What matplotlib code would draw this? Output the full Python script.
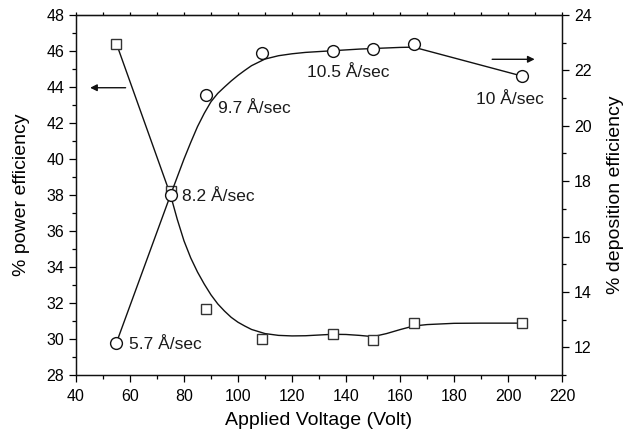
import matplotlib
matplotlib.use('Agg')
import matplotlib.pyplot as plt
from matplotlib.ticker import MultipleLocator

plt.rcParams['font.family'] = ['Liberation Sans', 'DejaVu Sans']

# measured points
voltage = [55, 75, 88, 109, 135, 150, 165, 205]
power_eff = [46.4, 38.2, 31.65, 30.0, 30.27, 29.95, 30.88, 30.88]
dep_eff = [12.17, 17.5, 21.12, 22.62, 22.71, 22.79, 22.94, 21.8]

# fitted curves
power_fit_x = [55, 75, 77.5, 80, 82.5, 85, 87.5, 90, 92.5, 95, 97.5, 100, 102.5,
               105, 110, 115, 120, 125, 130, 135, 140, 145, 150, 155, 160, 165,
               170, 180, 190, 205]
power_fit_y = [46.4, 38.0, 36.65, 35.45, 34.5, 33.72, 33.05, 32.45, 31.95, 31.55,
               31.2, 30.93, 30.72, 30.53, 30.3, 30.2, 30.17, 30.18, 30.22, 30.26,
               30.25, 30.2, 30.13, 30.3, 30.52, 30.72, 30.8, 30.87, 30.88, 30.88]
dep_fit_x = [55, 75, 77.5, 80, 82.5, 85, 87.5, 90, 92.5, 95, 97.5, 100, 102.5,
             105, 110, 115, 120, 125, 130, 135, 140, 145, 150, 155, 160, 165,
             175, 185, 195, 205]
dep_fit_y = [12.17, 17.5, 18.15, 18.8, 19.4, 19.97, 20.45, 20.87, 21.17, 21.4,
             21.62, 21.82, 22.0, 22.17, 22.41, 22.53, 22.6, 22.65, 22.68, 22.71,
             22.74, 22.77, 22.79, 22.81, 22.83, 22.84, 22.58, 22.32, 22.06, 21.8]

# rate labels (x, y on left axis)
rate_labels = ['5.7 Å/sec', '8.2 Å/sec', '9.7 Å/sec', '10.5 Å/sec', '10 Å/sec']
rate_x = [59.7, 79.2, 92.5, 125.7, 188]
rate_y = [29.72, 37.9, 42.83, 44.83, 43.28]


def main():
    fig = plt.figure(figsize=(6.26, 4.34), dpi=100)
    ax = fig.add_axes([0.1214, 0.136, 0.7764, 0.8294])
    ax2 = ax.twinx()

    ax.plot(power_fit_x, power_fit_y, color='#111111', lw=1.0, zorder=2)
    ax.plot(voltage, power_eff, 's', ms=7.5, mfc='white', mec='#333333',
            mew=1.0, zorder=3)
    ax2.plot(dep_fit_x, dep_fit_y, color='#111111', lw=1.0, zorder=2)
    ax2.plot(voltage, dep_eff, 'o', ms=8.5, mfc='white', mec='#111111',
             mew=1.0, zorder=3)

    for txt, x, y in zip(rate_labels, rate_x, rate_y):
        ax.text(x, y, txt, fontsize=12.5, ha='left', va='center', color='#1a1a1a')

    ax.annotate('', xy=(44.2, 43.96), xytext=(59.4, 43.96),
                arrowprops=dict(arrowstyle='-|>', color='#111111', lw=1.0,
                                mutation_scale=10))
    ax.annotate('', xy=(210.9, 45.54), xytext=(193.1, 45.54),
                arrowprops=dict(arrowstyle='-|>', color='#111111', lw=1.0,
                                mutation_scale=10))

    ax.set_xlim(40, 220)
    ax.set_ylim(28, 48)
    ax2.set_ylim(11, 24)

    ax.xaxis.set_major_locator(MultipleLocator(20))
    ax.xaxis.set_minor_locator(MultipleLocator(10))
    ax.yaxis.set_major_locator(MultipleLocator(2))
    ax.yaxis.set_minor_locator(MultipleLocator(1))
    ax2.yaxis.set_major_locator(MultipleLocator(2))
    ax2.yaxis.set_minor_locator(MultipleLocator(1))

    ax.tick_params(axis='x', which='major', direction='out', length=5,
                   width=0.9, labelsize=11.5, pad=5, top=False)
    ax.tick_params(axis='x', which='minor', direction='out', length=3, width=0.9)
    ax.tick_params(axis='y', which='major', direction='out', length=5,
                   width=0.9, labelsize=11.5, right=False)
    ax.tick_params(axis='y', which='minor', direction='out', length=3, width=0.9)
    ax2.tick_params(axis='y', which='major', direction='out', length=5,
                    width=0.9, labelsize=11.5)
    ax2.tick_params(axis='y', which='minor', direction='out', length=3, width=0.9)

    # small ticks along the top
    top = ax.secondary_xaxis('top')
    top.xaxis.set_major_locator(MultipleLocator(10))
    top.tick_params(direction='out', length=2.5, width=0.9, labeltop=False)

    for a in (ax, ax2):
        for s in a.spines.values():
            s.set_linewidth(0.9)
            s.set_color('#111111')

    ax.set_xlabel('Applied Voltage (Volt)', fontsize=14, labelpad=6)
    ax.set_ylabel('% power efficiency', fontsize=14, labelpad=12)
    ax2.set_ylabel('% deposition efficiency', fontsize=14, labelpad=11)

    fig.savefig('out.png', dpi=100)


if __name__ == '__main__':
    main()
